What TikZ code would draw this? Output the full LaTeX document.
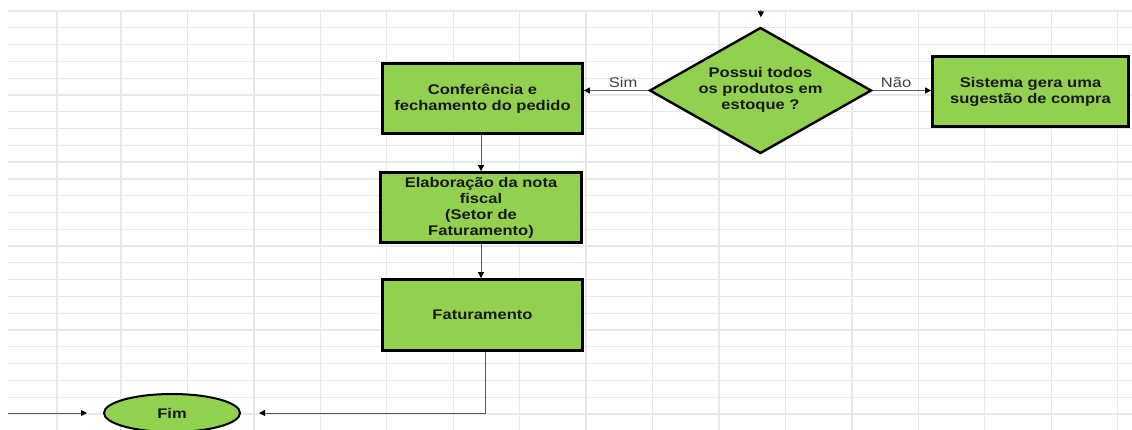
\documentclass[tikz,border=0pt]{standalone}
\usepackage{fontspec}
\usetikzlibrary{shapes.geometric,arrows.meta,calc}
\newfontfamily\arialx[FakeStretch=1.18]{Liberation Sans}
\definecolor{boxgreen}{HTML}{92D050}
\definecolor{gridgray}{HTML}{E8E8E8}
\definecolor{linegray}{HTML}{5A5A5A}
\definecolor{labelgray}{HTML}{404040}
\tikzset{
  procbox/.style={draw=black,line width=2.8pt,fill=boxgreen,rectangle,inner sep=0pt,
    align=center,font=\arialx\bfseries\fontsize{14}{16}\selectfont,text=black!90},
  decbox/.style={draw=black,line width=2.4pt,fill=boxgreen,diamond,inner sep=0pt,
    shape aspect=1.76,minimum width=222pt,minimum height=126pt,
    align=center,font=\arialx\bfseries\fontsize{14}{16}\selectfont,text=black!90},
  termbox/.style={draw=black,line width=2pt,fill=boxgreen,ellipse,inner sep=0pt,
    minimum width=136pt,minimum height=38pt,
    font=\arialx\bfseries\fontsize{14}{16}\selectfont,text=black!90},
  conn/.style={draw=linegray,line width=1pt,
    arrows={-{Triangle[length=6pt,width=6pt,fill=black,color=black]}}},
  lbl/.style={font=\arialx\fontsize{14}{16}\selectfont,text=labelgray,inner sep=1pt},
  gridline/.style={draw=gridgray,line width=1.3pt}
}
\begin{document}
\begin{tikzpicture}[x=1pt,y=-1pt]
\useasboundingbox (0,0) rectangle (1132,430);
\fill[white] (0,0) rectangle (1132,430);
% spreadsheet grid
\foreach \k in {0,...,24}{
  \draw[gridline] (8,{11+16.79*\k}) -- (1132,{11+16.79*\k});
}
\draw[gridline] (57,11) -- (57,430);
\foreach \k in {0,...,15}{
  \draw[gridline] ({121+66.44*\k},11) -- ({121+66.44*\k},430);
}
% nodes
\node[procbox,minimum width=200pt,minimum height=70pt] (conf) at (482.5,98.5)
  {Conferência e\\fechamento do pedido};
\node[procbox,minimum width=201pt,minimum height=70pt] (nota) at (481,207.5)
  {Elaboração da nota\\fiscal\\(Setor de\\Faturamento)};
\node[procbox,minimum width=200pt,minimum height=71pt] (fat) at (482.5,315)
  {Faturamento};
\node[procbox,minimum width=196pt,minimum height=70pt] (sug) at (1030.5,91.5)
  {Sistema gera uma\\sugestão de compra};
\node[decbox] (dec) at (760.5,90.5)
  {\raisebox{3pt}{\begin{tabular}{@{}c@{}}Possui todos\\os produtos em\\estoque ?\end{tabular}}};
\node[termbox] (fim) at (172,413) {Fim};
\coordinate (topin) at (761,10);
\coordinate (leftin) at (8,413);
% connectors
\draw[conn,shorten >=9pt] (topin) -- (dec.north);
\draw[conn] (dec.west) -- node[lbl,pos=0.39,above=1pt]{Sim} (dec.west -| conf.east);
\draw[conn] (dec.east) -- node[lbl,pos=0.4,above=1pt]{Não} (dec.east -| sug.west);
\draw[conn] (nota.north |- conf.south) -- (nota.north);
\draw[conn] (nota.south) -- (nota.south |- fat.north);
\draw[conn,shorten >=18pt] ([xshift=2.5pt]fat.south) |- (fim.east);
\draw[conn,shorten >=16pt] (leftin) -- (fim.west);
\end{tikzpicture}
\end{document}
